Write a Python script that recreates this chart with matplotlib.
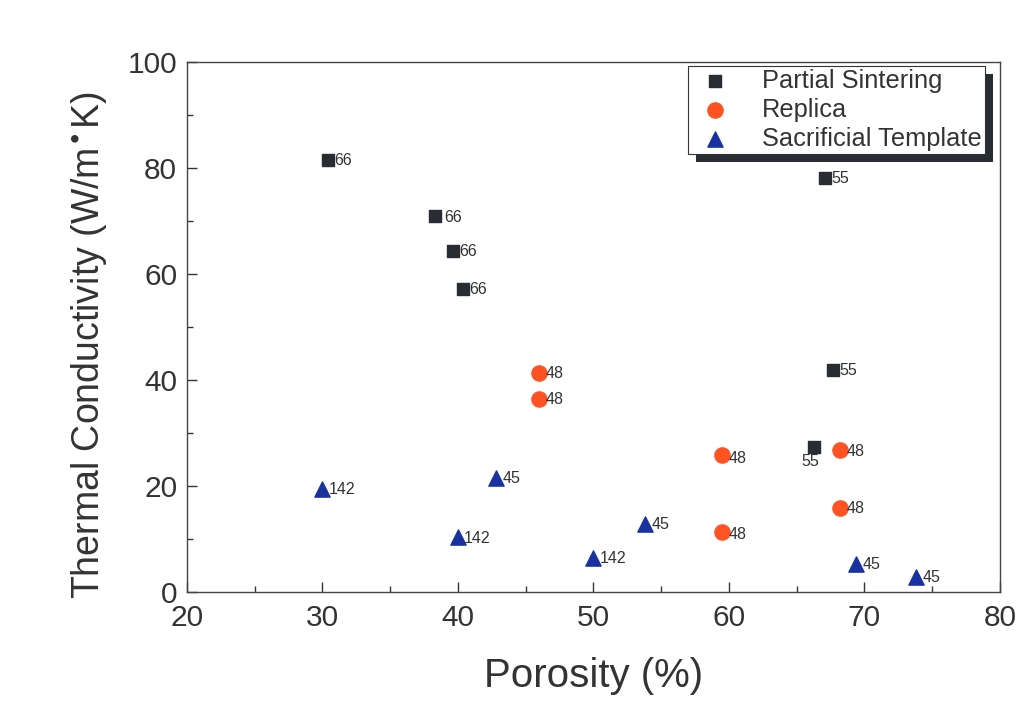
import matplotlib.pyplot as plt
from matplotlib.patches import Rectangle

plt.rcParams['font.family'] = ['Liberation Sans', 'DejaVu Sans']

# Partial Sintering
ps_x = [30.4, 38.3, 39.6, 40.4, 67.1, 67.7, 66.3]
ps_y = [81.5, 71.0, 64.4, 57.2, 78.2, 41.9, 27.3]
ps_lab = ['66', '66', '66', '66', '55', '55', '55']

# Replica
rp_x = [46.0, 46.0, 59.5, 59.5, 68.2, 68.2]
rp_y = [41.4, 36.5, 25.8, 11.3, 26.7, 15.8]
rp_lab = ['48', '48', '48', '48', '48', '48']

# Sacrificial Template
st_x = [30.0, 40.0, 50.0, 42.8, 53.8, 69.4, 73.8]
st_y = [19.4, 10.3, 6.4, 21.5, 12.8, 5.3, 2.8]
st_lab = ['142', '142', '142', '45', '45', '45', '45']

c_ps = '#2a2c34'
c_rp = '#ff5324'
c_st = '#1a32a0'
txt = '#333333'

fig = plt.figure(figsize=(10.29, 7.10), dpi=100)
ax = fig.add_axes([0.1817, 0.1662, 0.7901, 0.7465])

ax.scatter(ps_x, ps_y, marker='s', s=70, color=c_ps, label='Partial Sintering', zorder=3)
ax.scatter(rp_x, rp_y, marker='o', s=120, color=c_rp, label='Replica', zorder=3)
ax.scatter(st_x, st_y, marker='^', s=120, color=c_st, label='Sacrificial Template', zorder=3)

# label offsets (points)
def put_labels(xs, ys, labs, special=None):
    special = special or {}
    for i, (x, y, t) in enumerate(zip(xs, ys, labs)):
        dx, dy, ha = special.get(i, (4.5, -0.5, 'left'))
        ax.annotate(t, (x, y), xytext=(dx, dy), textcoords='offset points',
                    ha=ha, va='center', fontsize=11.5, color=txt)

put_labels(ps_x, ps_y, ps_lab, {1: (7, -1, 'left'), 6: (-3, -10, 'center')})
put_labels(rp_x, rp_y, rp_lab, {2: (4.5, -2, 'left'), 3: (4.5, -2, 'left')})
put_labels(st_x, st_y, st_lab)

ax.set_xlim(20, 80)
ax.set_ylim(0, 100)
ax.set_xticks([20, 30, 40, 50, 60, 70, 80])
ax.set_yticks([0, 20, 40, 60, 80, 100])
ax.set_xticks(range(25, 80, 10), minor=True)
ax.set_yticks(range(10, 100, 20), minor=True)
ax.tick_params(which='both', direction='in', top=False, right=False,
               color='#333333', width=1.0)
ax.tick_params(which='major', length=7, labelsize=21.5, labelcolor=txt)
ax.tick_params(axis='x', which='major', pad=9)
ax.tick_params(axis='y', which='major', pad=7)
ax.tick_params(which='minor', length=4)
for sp in ax.spines.values():
    sp.set_color('#444444')
    sp.set_linewidth(1.0)

ax.set_xlabel('Porosity (%)', fontsize=29, color=txt, labelpad=18)
ax.set_ylabel(r'Thermal Conductivity (W/m$^{\bullet}$K)', fontsize=27, color=txt)
ax.yaxis.set_label_coords(-0.096, 0.465)

leg = ax.legend(loc='upper right', bbox_to_anchor=(0.981, 0.993), fontsize=18.3,
                frameon=True, fancybox=False, borderpad=0.12, labelspacing=0.2,
                handletextpad=0.9, borderaxespad=0, handlelength=1.9,
                scatterpoints=1)
leg.get_frame().set_edgecolor('#333333')
leg.get_frame().set_linewidth(0.8)
leg.get_frame().set_alpha(1)
for t in leg.get_texts():
    t.set_color(txt)
leg.set_zorder(10)

# drop shadow behind the legend
fig.canvas.draw()
bb = leg.get_window_extent()
fw, fh = fig.bbox.width, fig.bbox.height
shadow = Rectangle(((bb.x0 + 8) / fw, (bb.y0 - 8) / fh), bb.width / fw, bb.height / fh,
                   transform=fig.transFigure, facecolor=c_ps, edgecolor='none',
                   zorder=5, clip_on=False)
ax.add_patch(shadow)

fig.savefig('out.png', dpi=100)
